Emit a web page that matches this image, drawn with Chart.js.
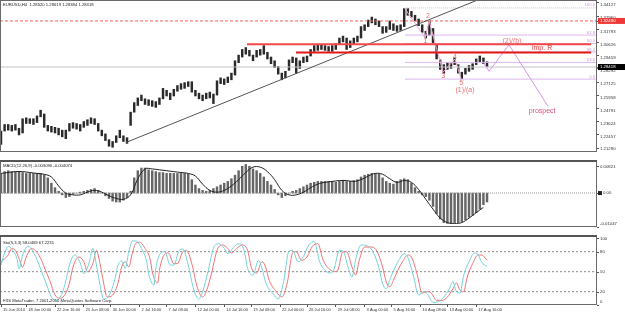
<!DOCTYPE html>
<html>
<head>
<meta charset="utf-8">
<script src="https://cdn.jsdelivr.net/npm/chart.js@4.4.0/dist/chart.umd.min.js"></script>
<style>
  body { margin: 0; background: #fff; width: 625px; height: 313px; overflow: hidden; position: relative; font-family: "Liberation Sans", Arial, sans-serif; }
  canvas { position: absolute; left: 0; }
  .lbl { position: absolute; font-size: 4.2px; line-height: 5px; color: #222; white-space: pre; }
</style>
</head>
<body>
<canvas id="mainChart" width="625" height="160" style="top:0"></canvas>
<canvas id="macdChart" width="625" height="75" style="top:160px"></canvas>
<canvas id="stochChart" width="625" height="78" style="top:235px"></canvas>
<div class="lbl" style="left:3px;top:2px">EURUSD,H4  1.28520 1.28619 1.28384 1.28418</div>
<div class="lbl" style="left:3px;top:163px">MACD(12,26,9) -0.003090 -0.004074</div>
<div class="lbl" style="left:3px;top:240px">Sto(5,3,3) 58.0469 67.2231</div>
<div class="lbl" style="left:3px;top:298px">FXS MetaTrader, 7 2001-2010 MetaQuotes Software Corp.</div>
<script>
// ---- price pane (one candle every 2 H4 bars) ----
const candleHigh = [
  1.2276,1.2334,1.2334,1.2326,1.2334,1.2301,1.2385,1.2393,1.2385,1.2385,
  1.2410,1.2460,1.2427,1.2326,1.2318,1.2309,1.2301,1.2284,1.2284,1.2343,
  1.2351,1.2343,1.2334,1.2360,1.2376,1.2393,1.2385,1.2343,1.2284,1.2251,
  1.2200,1.2184,1.2234,1.2284,1.2234,1.2217,1.2443,1.2527,1.2569,1.2594,
  1.2561,1.2553,1.2544,1.2536,1.2569,1.2653,1.2636,1.2611,1.2645,1.2678,
  1.2695,1.2704,1.2712,1.2712,1.2636,1.2611,1.2594,1.2611,1.2620,1.2603,
  1.2720,1.2746,1.2737,1.2754,1.2788,1.2897,1.2947,1.2997,1.3014,1.2989,
  1.2947,1.2989,1.2997,1.3031,1.2972,1.2930,1.2897,1.2846,1.2788,1.2804,
  1.2905,1.2930,1.2922,1.2897,1.2930,1.2939,1.2997,1.3031,1.3039,1.3039,
  1.3031,1.3023,1.3031,1.3048,1.3098,1.3115,1.3098,1.3073,1.3098,1.3115,
  1.3199,1.3215,1.3257,1.3283,1.3266,1.3249,1.3199,1.3199,1.3249,1.3224,
  1.3207,1.3215,1.3358,1.3358,1.3333,1.3299,1.3266,1.3215,1.3157,1.3249,
  1.3182,1.3048,1.2905,1.2863,1.2880,1.2880,1.2922,1.2863,1.2796,1.2830,
  1.2855,1.2871,1.2913,1.2939,1.2922,1.2888
];
const candleLow = [
  1.2158,1.2276,1.2284,1.2276,1.2284,1.2242,1.2259,1.2343,1.2343,1.2334,
  1.2351,1.2402,1.2309,1.2276,1.2267,1.2259,1.2242,1.2225,1.2209,1.2276,
  1.2301,1.2293,1.2276,1.2309,1.2326,1.2343,1.2334,1.2276,1.2234,1.2192,
  1.2142,1.2133,1.2175,1.2217,1.2184,1.2167,1.2326,1.2443,1.2502,1.2544,
  1.2511,1.2502,1.2494,1.2485,1.2511,1.2561,1.2586,1.2553,1.2586,1.2628,
  1.2645,1.2653,1.2670,1.2620,1.2586,1.2561,1.2544,1.2561,1.2569,1.2519,
  1.2594,1.2695,1.2687,1.2704,1.2729,1.2771,1.2880,1.2930,1.2955,1.2939,
  1.2897,1.2930,1.2947,1.2955,1.2913,1.2871,1.2838,1.2779,1.2729,1.2746,
  1.2813,1.2880,1.2788,1.2830,1.2880,1.2888,1.2939,1.2981,1.2989,1.2997,
  1.2989,1.2981,1.2981,1.2997,1.3039,1.3064,1.2997,1.3014,1.3048,1.3064,
  1.3098,1.3165,1.3199,1.3232,1.3215,1.3199,1.3140,1.3148,1.3174,1.3165,
  1.3157,1.3165,1.3199,1.3299,1.3283,1.3249,1.3207,1.3148,1.3098,1.3123,
  1.3048,1.2913,1.2821,1.2788,1.2821,1.2830,1.2863,1.2788,1.2737,1.2779,
  1.2804,1.2821,1.2863,1.2888,1.2871,1.2846
];
const priceTicks = [1.21290,1.22457,1.23624,1.24791,1.25958,1.27125,1.28292,1.29459,1.30626,1.31793,1.32960,1.34127];
const bidPrice = 1.28418;
const alertPrice = 1.3249;
const resistanceA = 1.3042;
const resistanceB = 1.2970;
const trendLine = [[69.4, 1.2175], [266, 1.3442]];
const fibNames = ['100.0', '61.8', '50.0', '38.2', '23.6', '0.0'];
const fibPrices = [1.3364, 1.3124, 1.3050, 1.2975, 1.2883, 1.2735];
const wavePath = [[224.4, 1.3358], [235.6, 1.3098], [237.8, 1.3249], [245.6, 1.2796], [252.2, 1.2913], [255.6, 1.2737]];
const prospectPath = [[267.8, 1.2888], [271.1, 1.2804], [282.2, 1.3039], [303.9, 1.2494]];
const waveTexts = ['2', '1', '3', '4', '5', '(1)/(a)', '(2)/(b)', 'imp. R', 'prospect'];
const waveSpots = [[237.2, 1.3291], [235.6, 1.3073], [245.6, 1.2762], [252.2, 1.2930], [255.6, 1.2704], [257.8, 1.2636], [283.9, 1.3073], [300.6, 1.3006], [300.6, 1.2452]];

// ---- MACD pane ----
const macdHist = [
  0.00578,0.0066,0.00688,0.0066,0.0066,0.0066,0.00633,0.00605,0.00605,0.00605,
  0.00605,0.00605,0.0055,0.00468,0.00303,0.00165,0.00055,-0.00055,-0.00138,-0.0011,
  -0.00028,0,0.00028,0.00055,0.00083,0.0011,0.00138,0.00083,0,-0.00083,
  -0.00165,-0.00248,-0.00275,-0.00275,-0.0022,-0.00138,0.00055,0.00468,0.00688,0.0077,
  0.0077,0.00715,0.00688,0.0066,0.00633,0.00633,0.00605,0.00605,0.00605,0.00605,
  0.00605,0.00605,0.00578,0.00413,0.00248,0.00138,0.00083,0.00055,0.00083,0.00138,
  0.00193,0.00248,0.00303,0.00358,0.0044,0.0055,0.00688,0.00825,0.0088,0.00825,
  0.00743,0.00688,0.00605,0.00495,0.00358,0.00248,0.0011,-0.00055,-0.00138,-0.00083,
  0,0.00055,0.00083,0.00138,0.00193,0.00248,0.00303,0.0033,0.00358,0.00358,
  0.00358,0.00358,0.00358,0.0033,0.00358,0.00385,0.00358,0.00358,0.00385,0.00413,
  0.00495,0.0055,0.00578,0.00605,0.00605,0.00578,0.00468,0.00358,0.00303,0.00275,
  0.00358,0.00413,0.0044,0.00413,0.00303,0.00165,0.00055,-0.00055,-0.0011,-0.0022,
  -0.00413,-0.00633,-0.00798,-0.00908,-0.00935,-0.00935,-0.00908,-0.00908,-0.0088,-0.00825,
  -0.00743,-0.00688,-0.00605,-0.00495,-0.00358,-0.00275
];
const macdSignal = [
  0.00605,0.00633,0.0066,0.0066,0.00633,0.00605,0.00578,0.00495,0.0022,0,
  -0.00055,-0.00055,0.00028,0.00083,0.00028,-0.00083,-0.00165,-0.00193,-0.00055,0.0044,
  0.00743,0.00743,0.00715,0.00688,0.0066,0.00633,0.00605,0.00523,0.00275,0.00083,
  0.00028,0.00083,0.0022,0.00413,0.00633,0.00798,0.00798,0.0066,0.00413,0.00083,
  -0.00055,-0.00055,0.00028,0.00165,0.00275,0.0033,0.00358,0.00385,0.00385,0.00358,
  0.00413,0.00523,0.00605,0.00578,0.0044,0.0033,0.00385,0.0033,0.0011,-0.00193,
  -0.00495,-0.0077,-0.00908,-0.00935,-0.00908,-0.0077,-0.00605,-0.0044
];
const macdTicks = [0.00821, 0, -0.01047];
const macdTickLabels = ['0.00821', '0.00', '-0.01047'];

// ---- Stochastic pane ([bar, value]) ----
const stochK = [[0,60],[2,78],[4,88],[6,84],[9,68],[10,54],[12,75],[15,88],[17,84],[20,68],[22,54],[25,33],[28,12],[31,7],[34,18],[36,36],[38,60],[41,75],[44,63],[46,47],[49,64],[51,85],[53,60],[55,30],[57,9],[60,14],[63,36],[65,60],[67,66],[69,55],[71,80],[73,96],[75,96],[78,85],[81,64],[82,47],[85,30],[86,55],[88,75],[91,80],[94,60],[96,60],[99,82],[101,84],[104,60],[107,24],[110,9],[112,20],[115,50],[118,85],[121,92],[124,85],[126,77],[129,86],[132,92],[135,82],[137,55],[140,45],[143,67],[145,55],[147,34],[151,17],[154,9],[157,35],[160,81],[162,82],[165,65],[168,73],[171,90],[174,95],[177,65],[180,52],[183,48],[185,54],[188,82],[190,81],[193,55],[195,42],[197,68],[200,90],[204,88],[207,78],[210,55],[212,32],[214,24],[216,38],[219,57],[221,67],[224,77],[226,71],[229,45],[232,15],[235,20],[237,16],[240,4],[243,5],[246,12],[249,24],[251,35],[253,20],[255,18],[257,44],[260,65],[263,78],[265,76],[267,64],[270,58]];
const stochD = [[0,65],[4,75],[6,85],[8,82],[10,70],[12,57],[14,72],[17,85],[19,82],[22,70],[24,57],[27,37],[30,15],[33,10],[36,18],[38,33],[40,57],[43,72],[46,65],[48,50],[51,62],[53,82],[55,62],[57,33],[59,12],[62,15],[65,33],[67,57],[69,65],[71,57],[73,78],[75,93],[77,94],[80,85],[83,67],[84,50],[87,33],[88,52],[90,72],[93,78],[96,62],[98,62],[101,80],[103,82],[106,62],[109,27],[112,12],[114,20],[117,48],[120,82],[123,90],[126,85],[128,78],[131,85],[134,90],[137,82],[139,57],[142,48],[145,65],[147,57],[149,37],[153,20],[156,12],[159,33],[162,78],[164,80],[167,67],[170,72],[173,88],[176,92],[179,67],[182,55],[185,50],[187,52],[190,80],[192,80],[195,57],[197,45],[199,67],[202,87],[206,87],[209,80],[212,57],[214,35],[216,27],[218,37],[221,55],[223,65],[226,75],[228,72],[231,48],[234,18],[237,20],[239,18],[242,7],[245,7],[248,12],[251,24],[253,33],[255,22],[257,20],[259,42],[262,62],[265,75],[267,75],[270,67]];
const stochLevels = [80, 50, 20];
const stochTicks = [100, 80, 50, 20, 0];

// ---- time axis ----
const dateTickBars = [0,14,30,46,61,77,92,108,124,139,155,170,186,202,217,233,248,264];
const dateLabels = ['15 Jun 2010','18 Jun 00:00','22 Jun 16:00','25 Jun 08:00','30 Jun 00:00','2 Jul 16:00','7 Jul 08:00','12 Jul 00:00','14 Jul 16:00','19 Jul 08:00','22 Jul 00:00','26 Jul 16:00','29 Jul 08:00','3 Aug 00:00','5 Aug 16:00','10 Aug 08:00','13 Aug 00:00','17 Aug 16:00'];

const xMin = -0.56, xMax = 331.1;
const tinyFont = '4.3px "Liberation Sans"';

Chart.defaults.animation = false;
Chart.defaults.responsive = false;
Chart.defaults.devicePixelRatio = 1;
Chart.defaults.plugins.legend.display = false;
Chart.defaults.plugins.tooltip.enabled = false;

// right hand price/value labels like the terminal draws them
const rightLabels = {
  id: 'rightLabels',
  afterDraw(chart, args, opts) {
    const { ctx, chartArea: a } = chart;
    const ys = chart.scales.y;
    ctx.save();
    ctx.font = tinyFont;
    ctx.textBaseline = 'middle';
    ctx.textAlign = 'left';
    (opts.items || []).forEach(it => {
      const tickY = ys.getPixelForValue(it.value);
      const y = Math.min(Math.max(tickY + (it.dy || 0), a.top + 3), a.bottom - 3);
      ctx.strokeStyle = '#555';
      ctx.lineWidth = 1;
      ctx.beginPath();
      ctx.moveTo(a.right, Math.round(tickY) + 0.5);
      ctx.lineTo(a.right + 2, Math.round(tickY) + 0.5);
      ctx.stroke();
      if (it.bg) {
        ctx.fillStyle = it.bg;
        ctx.fillRect(a.right + 1, y - 3, 27, 6);
      }
      if (it.marker) {
        ctx.fillStyle = '#222';
        ctx.fillRect(a.right + 1, y - 2, 4, 4);
      }
      ctx.fillStyle = it.color || '#333';
      ctx.fillText(it.text, a.right + (it.marker ? 6 : 3), y);
    });
    ctx.restore();
  }
};

// pane border
const frame = {
  id: 'frame',
  afterDraw(chart, args, opts) {
    const { ctx, chartArea: a } = chart;
    ctx.save();
    ctx.strokeStyle = '#6a6a6a';
    ctx.lineWidth = 1;
    ctx.strokeRect(a.left + 0.5, a.top + 0.5, a.right - a.left - 1, a.bottom - a.top - 1);
    if (opts.topBar) {
      ctx.fillStyle = '#555';
      ctx.fillRect(a.left, a.top, a.right - a.left, 2);
    }
    ctx.restore();
  }
};

// wave labels and fibo level names
const annot = {
  id: 'annot',
  afterDatasetsDraw(chart) {
    const { ctx, chartArea: a } = chart;
    const xs = chart.scales.x, ys = chart.scales.y;
    ctx.save();
    ctx.textAlign = 'right';
    ctx.textBaseline = 'bottom';
    ctx.font = '4.2px "Liberation Sans"';
    ctx.fillStyle = '#c89ad8';
    fibPrices.forEach((p, i) => ctx.fillText(fibNames[i], a.right - 2, ys.getPixelForValue(p) - 0.5));
    ctx.textAlign = 'center';
    ctx.textBaseline = 'middle';
    ctx.font = '7px "Liberation Sans"';
    const colors = ['#ee6a6a', '#ee6a6a', '#ee6a6a', '#ee6a6a', '#ee6a6a', '#f07070', '#f07070', '#e23c3c', '#e0507a'];
    waveSpots.forEach((s, i) => {
      ctx.fillStyle = colors[i];
      ctx.fillText(waveTexts[i], xs.getPixelForValue(s[0]), ys.getPixelForValue(s[1]));
    });
    ctx.restore();
  }
};

const hidden = { display: false };
function xAxis(show) {
  return {
    type: 'linear', min: xMin, max: xMax, display: show, offset: false,
    grid: { display: show, offset: false, drawOnChartArea: false, drawTicks: true, tickLength: 2, color: '#555' },
    border: { display: false },
    afterBuildTicks: s => { s.ticks = dateTickBars.map(v => ({ value: v })); },
    afterFit: s => { s.height = 8; },
    ticks: {
      autoSkip: false, maxRotation: 0, minRotation: 0, align: 'start', padding: 0, labelOffset: 2,
      color: '#333', font: { family: 'Liberation Sans', size: 4 },
      callback: (v, i) => dateLabels[i]
    }
  };
}
function yAxis(min, max) {
  return {
    position: 'right', min: min, max: max,
    grid: hidden, border: { display: false },
    ticks: { display: false },
    afterFit: s => { s.width = 28; }
  };
}
const flat = (y, color, dash, from) => ({
  type: 'line', data: [{ x: from === undefined ? xMin : from, y: y }, { x: xMax, y: y }],
  borderColor: color, borderWidth: 1, borderDash: dash || [], pointRadius: 0, order: 1
});
const path = (pts, color, width) => ({
  type: 'line', data: pts.map(p => ({ x: p[0], y: p[1] })),
  borderColor: color, borderWidth: width || 1, pointRadius: 0, tension: 0, order: 0
});

// main chart
const mainItems = priceTicks.map(v => ({ value: v, text: v.toFixed(5), dy: 2.5 }));
mainItems.push({ value: alertPrice, text: alertPrice.toFixed(5), bg: '#f03a3a', color: '#fff' });
mainItems.push({ value: bidPrice, text: bidPrice.toFixed(5), bg: '#000', color: '#fff' });

new Chart(document.getElementById('mainChart'), {
  type: 'bar',
  data: {
    datasets: [
      ...fibPrices.map((p, i) => flat(p, '#dcb6ee', i === 0 ? [1, 1] : [], 224.4)),
      flat(alertPrice, '#f06060', [3, 2]),
      flat(bidPrice, '#c4c4c4'),
      { type: 'line', data: [{ x: 136.7, y: resistanceA }, { x: 327.8, y: resistanceA }], borderColor: '#f24848', borderWidth: 2, pointRadius: 0, order: 0 },
      { type: 'line', data: [{ x: 163.9, y: resistanceB }, { x: 327.8, y: resistanceB }], borderColor: '#e01818', borderWidth: 2, pointRadius: 0, order: 0 },
      path(trendLine, '#555'),
      path(wavePath, '#f2a6d2'),
      path(prospectPath, '#d696ec'),
      {
        type: 'bar',
        data: candleHigh.map((h, i) => ({ x: i * 2, y: [candleLow[i], h] })),
        backgroundColor: '#2a2a2a', barThickness: 1.8, order: 5
      }
    ]
  },
  options: {
    layout: { padding: 0 },
    scales: { x: xAxis(false), y: yAxis(1.2091, 1.3434) },
    plugins: { rightLabels: { items: mainItems }, frame: { topBar: false } }
  },
  plugins: [rightLabels, frame, annot]
});

// MACD chart
new Chart(document.getElementById('macdChart'), {
  type: 'bar',
  data: {
    datasets: [
      flat(0, '#999', [1, 1]),
      {
        type: 'line', data: macdSignal.map((v, k) => ({ x: k * 4, y: v })),
        borderColor: '#222', borderWidth: 1, pointRadius: 0, tension: 0.4, order: 0
      },
      {
        type: 'bar', data: macdHist.map((v, i) => ({ x: i * 2, y: v })),
        backgroundColor: '#666', barThickness: 1.8, order: 5
      }
    ]
  },
  options: {
    layout: { padding: 0 },
    scales: { x: xAxis(false), y: yAxis(-0.01045, 0.01018) },
    plugins: {
      rightLabels: { items: macdTicks.map((v, i) => ({ value: v, text: macdTickLabels[i], marker: v === 0 })) },
      frame: { topBar: true }
    }
  },
  plugins: [rightLabels, frame]
});

// Stochastic chart
new Chart(document.getElementById('stochChart'), {
  type: 'line',
  data: {
    datasets: [
      ...stochLevels.map(v => flat(v, '#8a8a8a', [2, 2])),
      {
        data: stochK.map(p => ({ x: p[0], y: p[1] })),
        borderColor: '#74d2d8', borderWidth: 1, pointRadius: 0, tension: 0.4, cubicInterpolationMode: 'monotone', order: 0
      },
      {
        data: stochD.map(p => ({ x: p[0], y: p[1] })),
        borderColor: '#f27272', borderWidth: 1, pointRadius: 0, tension: 0.4, cubicInterpolationMode: 'monotone', order: 0
      }
    ]
  },
  options: {
    layout: { padding: 0 },
    scales: { x: xAxis(true), y: yAxis(0, 105) },
    plugins: {
      rightLabels: { items: stochTicks.map(v => ({ value: v, text: String(v) })) },
      frame: { topBar: true }
    }
  },
  plugins: [rightLabels, frame]
});
</script>
</body>
</html>
